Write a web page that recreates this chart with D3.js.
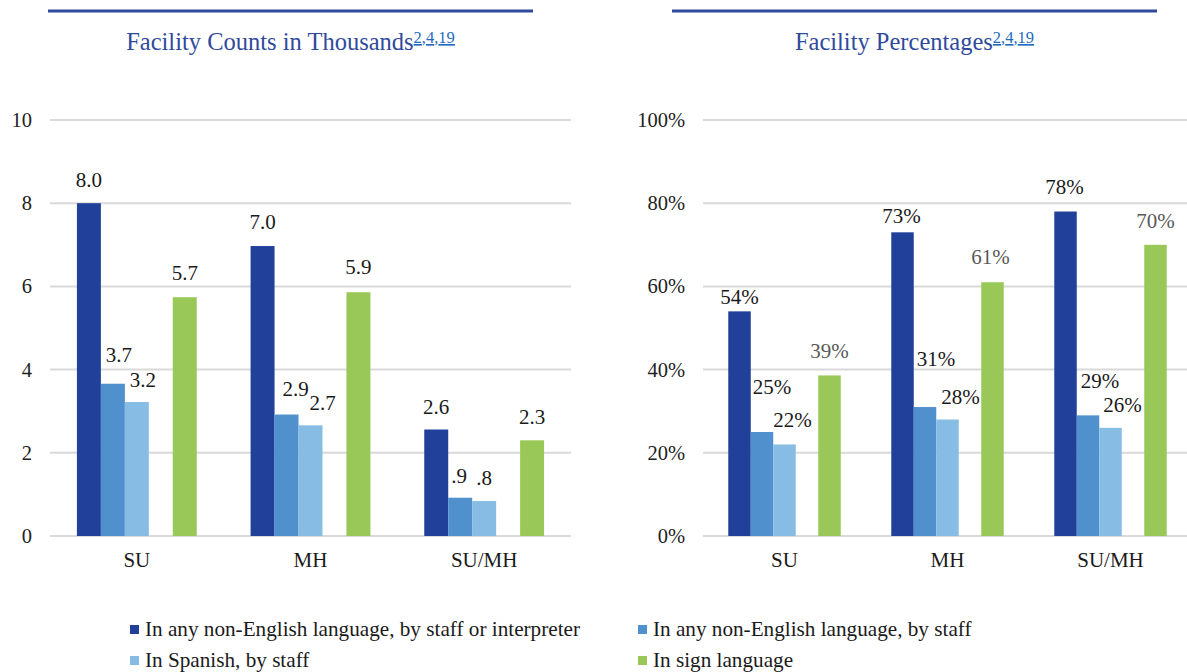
<!DOCTYPE html>
<html>
<head>
<meta charset="utf-8">
<script src="https://cdn.jsdelivr.net/npm/d3@7"></script>
<style>
  body { margin: 0; background: #fff; }
</style>
</head>
<body>
<div id="chart"></div>
<script>
// categories and series
const categories = ["SU", "MH", "SU/MH"];
const seriesNames = [
  "In any non-English language, by staff or interpreter",
  "In any non-English language, by staff",
  "In Spanish, by staff",
  "In sign language"
];
const seriesColors = ["#21409A", "#4F90CD", "#87BCE4", "#9AC858"];

// facility counts in thousands, one row per category
const countsSU = [8.0, 3.66, 3.22, 5.74];
const countsMH = [6.97, 2.92, 2.66, 5.86];
const countsSUMH = [2.56, 0.92, 0.84, 2.30];

// facility percentages
const pctSU = [54, 25, 22, 38.6];
const pctMH = [73, 31, 28, 61];
const pctSUMH = [78, 29, 26, 70];

const countTicks = [0, 2, 4, 6, 8, 10];
const pctTicks = [0, 20, 40, 60, 80, 100];

// label nudges [dx, distance above bar top] - hand placed in the original
const countNudge = [
  [[0, 23], [6, 29], [6, 22], [0, 24]],
  [[0, 24], [9, 26], [12, 22], [0, 25]],
  [[0, 23], [-1, 22], [0, 23], [0, 23]]
];
const pctNudge = [
  [[0, 14], [10, 45], [8, 24], [0, 24]],
  [[-1, 16], [11, 48], [13, 23], [-2, 25]],
  [[-1, 25], [12, 34], [12, 23], [0, 24]]
];

const FONT = "'Liberation Serif', Tinos, 'Times New Roman', Times, 'DejaVu Serif', serif";

const W = 1187, H = 672;
const svg = d3.select("#chart").append("svg")
  .attr("width", W).attr("height", H)
  .attr("font-family", FONT);

function drawPanel(cfg) {
  const g = svg.append("g");

  // rule + title
  g.append("line")
    .attr("x1", cfg.rule[0]).attr("x2", cfg.rule[1])
    .attr("y1", 11).attr("y2", 11)
    .attr("stroke", "#2E4A9E").attr("stroke-width", 3);

  const title = g.append("text")
    .attr("x", (cfg.rule[0] + cfg.rule[1]) / 2)
    .attr("y", 50)
    .attr("text-anchor", "middle")
    .attr("font-family", FONT)
    .attr("font-size", 24.5)
    .attr("fill", "#2F4A9C");
  title.append("tspan").text(cfg.title);
  const sup = [["2", true], [",", false], ["4", true], [",", false], ["19", true]];
  sup.forEach((s, i) => {
    const t = title.append("tspan")
      .attr("font-size", 16.5)
      .attr("fill", "#1F6BC0")
      .attr("dy", i === 0 ? -7 : 0)
      .text(s[0]);
    if (s[1]) t.style("text-decoration", "underline");
  });

  const x = d3.scaleBand()
    .domain(categories)
    .range(cfg.xRange);

  const bw = x.bandwidth();
  const slot = d3.scaleBand()
    .domain([0, 1, 2, 3, 4])
    .range([bw * 0.155, bw * 0.845]);
  const slotOf = [0, 1, 2, 4];

  const y = d3.scaleLinear()
    .domain(cfg.domain)
    .range([536, 120]);

  // gridlines
  g.append("g")
    .selectAll("line")
    .data(cfg.ticks)
    .enter()
    .append("line")
    .attr("x1", cfg.xRange[0]).attr("x2", cfg.xRange[1])
    .attr("y1", d => y(d)).attr("y2", d => y(d))
    .attr("stroke", "#D9D9D9").attr("stroke-width", 2);

  // y tick labels
  g.append("g")
    .selectAll("text")
    .data(cfg.ticks)
    .enter()
    .append("text")
    .attr("x", cfg.xRange[0] - 18)
    .attr("y", d => y(d) + 7)
    .attr("text-anchor", "end")
    .attr("font-family", FONT)
    .attr("font-size", 20.5)
    .attr("fill", "#222")
    .text(cfg.tickFmt);

  // bars
  const rows = categories.map((c, ci) =>
    cfg.values[ci].map((v, si) => ({ cat: c, ci, si, v }))
  ).flat();

  g.append("g")
    .selectAll("rect")
    .data(rows)
    .enter()
    .append("rect")
    .attr("x", d => x(d.cat) + slot(slotOf[d.si]))
    .attr("width", slot.bandwidth())
    .attr("y", d => y(d.v))
    .attr("height", d => y(0) - y(d.v))
    .attr("fill", d => seriesColors[d.si]);

  // value labels
  g.append("g")
    .selectAll("text")
    .data(rows)
    .enter()
    .append("text")
    .attr("x", d => x(d.cat) + slot(slotOf[d.si]) + slot.bandwidth() / 2 + cfg.nudge[d.ci][d.si][0])
    .attr("y", d => y(d.v) - cfg.nudge[d.ci][d.si][1] + 7)
    .attr("text-anchor", "middle")
    .attr("font-family", FONT)
    .attr("font-size", 21)
    .attr("fill", d => (cfg.greyGreen && d.si === 3) ? "#595959" : "#1A1A1A")
    .text(d => cfg.labelFmt(d.v));

  // category labels
  g.append("g")
    .selectAll("text")
    .data(categories)
    .enter()
    .append("text")
    .attr("x", d => x(d) + bw / 2)
    .attr("y", 567)
    .attr("text-anchor", "middle")
    .attr("font-family", FONT)
    .attr("font-size", 21)
    .attr("fill", "#1A1A1A")
    .text(d => d);
}

drawPanel({
  title: "Facility Counts in Thousands",
  rule: [48, 533],
  xRange: [50, 571],
  domain: [0, 10],
  ticks: countTicks,
  tickFmt: d => d,
  values: [countsSU, countsMH, countsSUMH],
  nudge: countNudge,
  labelFmt: v => v.toFixed(1).replace(/^0\./, "."),
  greyGreen: false
});

drawPanel({
  title: "Facility Percentages",
  rule: [672, 1157],
  xRange: [703, 1192],
  domain: [0, 100],
  ticks: pctTicks,
  tickFmt: d => d + "%",
  values: [pctSU, pctMH, pctSUMH],
  nudge: pctNudge,
  labelFmt: v => Math.round(v) + "%",
  greyGreen: true
});

// legend
const legendPos = [[130, 630], [638, 630], [130, 661], [638, 661]];
const legend = svg.append("g")
  .selectAll("g")
  .data(seriesNames)
  .enter()
  .append("g")
  .attr("transform", (d, i) => `translate(${legendPos[i][0]},${legendPos[i][1]})`);

legend.append("rect")
  .attr("x", 0).attr("y", -5)
  .attr("width", 9).attr("height", 9)
  .attr("fill", (d, i) => seriesColors[i]);

legend.append("text")
  .attr("x", 15)
  .attr("y", 6)
  .attr("font-family", FONT)
  .attr("font-size", 21.2)
  .attr("fill", "#1A1A1A")
  .text(d => d);
</script>
</body>
</html>
